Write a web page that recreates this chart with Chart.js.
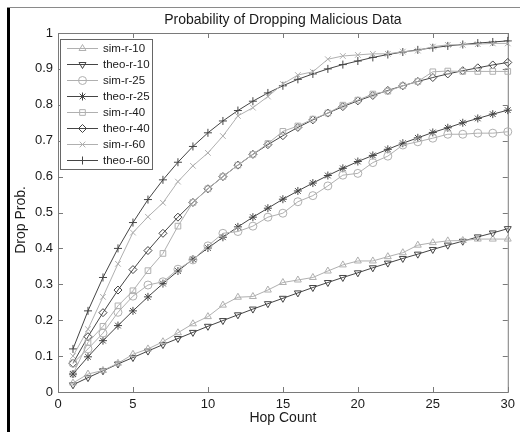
<!DOCTYPE html>
<html>
<head>
<meta charset="utf-8">
<title>Probability of Dropping Malicious Data</title>
<script src="https://cdn.jsdelivr.net/npm/chart.js@4.4.1/dist/chart.umd.min.js"></script>
<style>
  html, body { margin: 0; padding: 0; background: #fff; }
  #wrap { width: 520px; height: 432px; }
</style>
</head>
<body>
<div id="wrap"><canvas id="dropChart" width="520" height="432"></canvas></div>
<script>
// --- Data ---
const hops = [1, 2, 3, 4, 5, 6, 7, 8, 9, 10, 11, 12, 13, 14, 15, 16, 17, 18, 19, 20, 21, 22, 23, 24, 25, 26, 27, 28, 29, 30];

const simR10  = [0.025, 0.05, 0.06, 0.08, 0.105, 0.12, 0.14, 0.165, 0.19, 0.21, 0.242, 0.264, 0.266, 0.284, 0.305, 0.312, 0.319, 0.337, 0.354, 0.365, 0.365, 0.377, 0.388, 0.409, 0.416, 0.421, 0.422, 0.426, 0.426, 0.426];
const theoR10 = [0.020, 0.040, 0.059, 0.078, 0.096, 0.114, 0.132, 0.149, 0.166, 0.183, 0.199, 0.215, 0.231, 0.246, 0.261, 0.276, 0.291, 0.305, 0.319, 0.332, 0.346, 0.359, 0.372, 0.384, 0.397, 0.409, 0.420, 0.432, 0.443, 0.455];
const simR25  = [0.08, 0.12, 0.164, 0.222, 0.267, 0.298, 0.307, 0.342, 0.368, 0.407, 0.442, 0.447, 0.462, 0.487, 0.498, 0.530, 0.547, 0.574, 0.604, 0.609, 0.639, 0.657, 0.688, 0.697, 0.707, 0.718, 0.718, 0.721, 0.721, 0.725];
const theoR25 = [0.050, 0.098, 0.143, 0.185, 0.226, 0.265, 0.302, 0.337, 0.370, 0.401, 0.431, 0.460, 0.487, 0.512, 0.537, 0.560, 0.582, 0.603, 0.623, 0.642, 0.659, 0.676, 0.693, 0.708, 0.723, 0.736, 0.750, 0.762, 0.774, 0.785];
const simR40  = [0.05, 0.138, 0.183, 0.240, 0.282, 0.338, 0.386, 0.462, 0.528, 0.566, 0.600, 0.632, 0.662, 0.692, 0.726, 0.741, 0.760, 0.777, 0.799, 0.813, 0.830, 0.838, 0.853, 0.865, 0.892, 0.894, 0.893, 0.893, 0.893, 0.893];
const theoR40 = [0.080, 0.154, 0.221, 0.284, 0.341, 0.394, 0.442, 0.487, 0.528, 0.566, 0.600, 0.632, 0.662, 0.689, 0.714, 0.737, 0.758, 0.777, 0.795, 0.811, 0.826, 0.840, 0.853, 0.865, 0.876, 0.886, 0.895, 0.903, 0.911, 0.918];
const simR60  = [0.10, 0.175, 0.265, 0.357, 0.444, 0.488, 0.527, 0.586, 0.630, 0.666, 0.713, 0.769, 0.792, 0.823, 0.858, 0.883, 0.892, 0.927, 0.936, 0.939, 0.942, 0.942, 0.948, 0.951, 0.962, 0.967, 0.967, 0.969, 0.971, 0.971];
const theoR60 = [0.120, 0.226, 0.319, 0.400, 0.472, 0.536, 0.591, 0.640, 0.684, 0.722, 0.755, 0.784, 0.810, 0.833, 0.853, 0.871, 0.886, 0.900, 0.912, 0.922, 0.932, 0.940, 0.947, 0.953, 0.959, 0.964, 0.968, 0.972, 0.975, 0.978];

const xTickLabels = ['0', '5', '10', '15', '20', '25', '30'];
const yTickLabels = ['0', '0.1', '0.2', '0.3', '0.4', '0.5', '0.6', '0.7', '0.8', '0.9', '1'];

const FONT = '"Liberation Sans", Arial, Helvetica, sans-serif';
const SIM_COLOR = '#b0b0b0';
const THEO_COLOR = '#454545';
const AXIS_COLOR = '#7a7a7a';

function series(label, values, color, pointStyle, rotation) {
    return {
        label: label,
        data: hops.map((h, i) => ({ x: h, y: values[i] })),
        borderColor: color,
        borderWidth: 1,
        pointStyle: pointStyle,
        pointRotation: rotation || 0,
        pointRadius: 4,
        pointBorderColor: color,
        pointBackgroundColor: 'rgba(0,0,0,0)',
        pointBorderWidth: 1,
        tension: 0,
        fill: false,
        clip: false
    };
}

// --- Custom drawing: frame, inward ticks, titles, legend ---
const matlabLook = {
    id: 'matlabLook',
    beforeDraw(chart) {
        const ctx = chart.ctx;
        ctx.save();
        ctx.fillStyle = '#fff';
        ctx.fillRect(0, 0, chart.width, chart.height);
        // page edges around the figure
        ctx.fillStyle = '#000';
        ctx.fillRect(7, 7, 3, chart.height - 7);
        ctx.fillStyle = '#8a8a8a';
        ctx.fillRect(7, 7, chart.width - 7, 1);
        ctx.restore();
    },
    beforeDatasetsDraw(chart) {
        const ctx = chart.ctx;
        const a = chart.chartArea;
        const xs = chart.scales.x, ys = chart.scales.y;
        ctx.save();
        ctx.strokeStyle = AXIS_COLOR;
        ctx.lineWidth = 1;
        ctx.strokeRect(a.left + 0.5, a.top + 0.5, a.right - a.left, a.bottom - a.top);
        ctx.beginPath();
        xs.ticks.forEach(t => {
            const px = Math.round(xs.getPixelForValue(t.value)) + 0.5;
            ctx.moveTo(px, a.bottom); ctx.lineTo(px, a.bottom - 5);
            ctx.moveTo(px, a.top); ctx.lineTo(px, a.top + 5);
        });
        ys.ticks.forEach(t => {
            const py = Math.round(ys.getPixelForValue(t.value)) + 0.5;
            ctx.moveTo(a.left, py); ctx.lineTo(a.left + 5, py);
            ctx.moveTo(a.right, py); ctx.lineTo(a.right - 5, py);
        });
        ctx.stroke();
        ctx.restore();
    },
    afterDraw(chart) {
        const ctx = chart.ctx;
        const a = chart.chartArea;
        const midX = (a.left + a.right) / 2;
        ctx.save();
        ctx.fillStyle = '#1a1a1a';
        ctx.textAlign = 'center';
        ctx.textBaseline = 'middle';
        ctx.font = '14px ' + FONT;
        ctx.fillText('Probability of Dropping Malicious Data', midX, 20);
        ctx.fillText('Hop Count', midX, 418);
        ctx.translate(21, 220);
        ctx.rotate(-Math.PI / 2);
        ctx.fillText('Drop Prob.', 0, 0);
        ctx.restore();

        // legend box in the upper-left corner
        const boxL = 60, boxT = 39, boxW = 92, boxH = 130;
        ctx.save();
        ctx.fillStyle = '#fff';
        ctx.fillRect(boxL, boxT, boxW, boxH);
        ctx.strokeStyle = '#666';
        ctx.lineWidth = 1;
        ctx.strokeRect(boxL + 0.5, boxT + 0.5, boxW, boxH);
        ctx.font = '11.5px ' + FONT;
        ctx.textAlign = 'left';
        ctx.textBaseline = 'middle';
        chart.data.datasets.forEach((ds, i) => {
            const y = Math.round(boxT + 9 + i * 16) + 0.5;
            ctx.strokeStyle = ds.borderColor;
            ctx.lineWidth = 1;
            ctx.beginPath();
            ctx.moveTo(67, y); ctx.lineTo(98, y);
            ctx.stroke();
            if (Chart.helpers && Chart.helpers.drawPoint) {
                ctx.fillStyle = 'rgba(0,0,0,0)';
                Chart.helpers.drawPoint(ctx, {
                    pointStyle: ds.pointStyle,
                    rotation: ds.pointRotation,
                    radius: ds.pointRadius,
                    borderWidth: 1
                }, 82.5, y);
            }
            ctx.fillStyle = '#1a1a1a';
            ctx.fillText(ds.label, 103, y);
        });
        ctx.restore();
    }
};

// --- Chart ---
const canvas = document.getElementById('dropChart');
new Chart(canvas, {
    type: 'line',
    data: {
        datasets: [
            series('sim-r-10', simR10, SIM_COLOR, 'triangle', 0),
            series('theo-r-10', theoR10, THEO_COLOR, 'triangle', 180),
            series('sim-r-25', simR25, SIM_COLOR, 'circle', 0),
            series('theo-r-25', theoR25, THEO_COLOR, 'star', 0),
            series('sim-r-40', simR40, SIM_COLOR, 'rect', 0),
            series('theo-r-40', theoR40, THEO_COLOR, 'rectRot', 0),
            series('sim-r-60', simR60, SIM_COLOR, 'crossRot', 0),
            series('theo-r-60', theoR60, THEO_COLOR, 'cross', 0)
        ]
    },
    plugins: [matlabLook],
    options: {
        responsive: false,
        animation: false,
        devicePixelRatio: 1,
        layout: { padding: { top: 33, right: 12, left: 0, bottom: 0 } },
        plugins: {
            legend: { display: false },
            title: { display: false },
            tooltip: { enabled: false }
        },
        scales: {
            x: {
                type: 'linear',
                min: 0,
                max: 30,
                ticks: {
                    stepSize: 5,
                    padding: 5,
                    color: '#1a1a1a',
                    font: { family: FONT, size: 13 },
                    maxRotation: 0,
                    callback: (v, i) => xTickLabels[i]
                },
                grid: { display: false, drawTicks: false },
                border: { display: false },
                afterFit: scale => { scale.height = 40; }
            },
            y: {
                min: 0,
                max: 1,
                ticks: {
                    stepSize: 0.1,
                    padding: 5,
                    color: '#1a1a1a',
                    font: { family: FONT, size: 13 },
                    callback: (v, i) => yTickLabels[i]
                },
                grid: { display: false, drawTicks: false },
                border: { display: false },
                afterFit: scale => { scale.width = 58; }
            }
        }
    }
});
</script>
</body>
</html>
